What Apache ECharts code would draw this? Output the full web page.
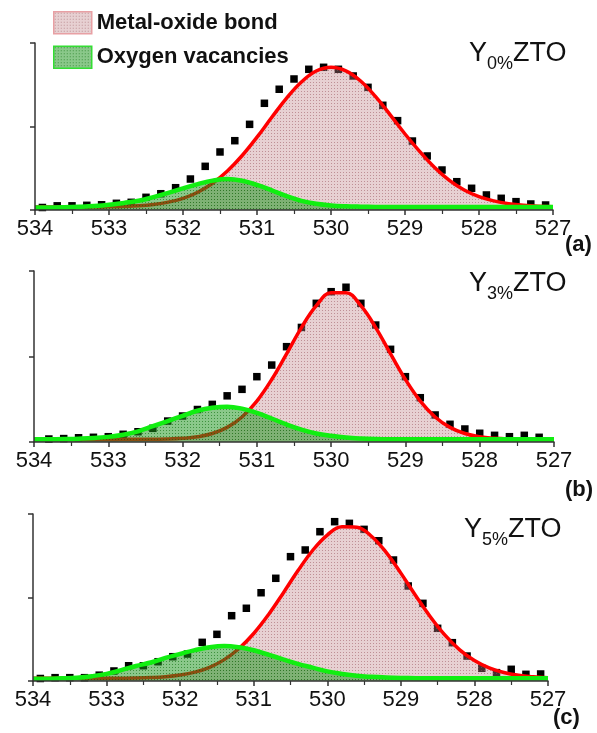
<!DOCTYPE html>
<html>
<head>
<meta charset="utf-8">
<script src="https://cdn.jsdelivr.net/npm/echarts@6/dist/echarts.min.js"></script>
<style>
  html, body { margin: 0; padding: 0; background: #fff; }
  #xps { width: 597px; height: 733px; }
</style>
</head>
<body>
<div id="xps"></div>
<script>
// binding energy grid (eV) for the fitted components
var curveX = [534.0, 533.8, 533.6, 533.4, 533.2, 533.0, 532.8, 532.6, 532.4, 532.2,
              532.0, 531.8, 531.6, 531.4, 531.2, 531.0, 530.8, 530.6, 530.4, 530.2,
              530.0, 529.8, 529.6, 529.4, 529.2, 529.0, 528.8, 528.6, 528.4, 528.2,
              528.0, 527.8, 527.6, 527.4, 527.2, 527.0];

// measured points
var pointsXOdd = [533.9, 533.7, 533.5, 533.3, 533.1, 532.9, 532.7, 532.5, 532.3, 532.1,
                  531.9, 531.7, 531.5, 531.3, 531.1, 530.9, 530.7, 530.5, 530.3, 530.1,
                  529.9, 529.7, 529.5, 529.3, 529.1, 528.9, 528.7, 528.5, 528.3, 528.1,
                  527.9, 527.7, 527.5, 527.3, 527.1];
var pointsXEven = [533.8, 533.6, 533.4, 533.2, 533.0, 532.8, 532.6, 532.4, 532.2, 532.0,
                   531.8, 531.6, 531.4, 531.2, 531.0, 530.8, 530.6, 530.4, 530.2, 530.0,
                   529.8, 529.6, 529.4, 529.2, 529.0, 528.8, 528.6, 528.4, 528.2, 528.0,
                   527.8, 527.6, 527.4, 527.2];

// Y0%ZTO
var dataA = [0.03, 0.05, 0.05, 0.056, 0.063, 0.08, 0.092, 0.152, 0.195, 0.267,
             0.371, 0.523, 0.695, 0.83, 1.026, 1.278, 1.446, 1.569, 1.685, 1.709,
             1.685, 1.605, 1.469, 1.254, 1.07, 0.826, 0.647, 0.479, 0.339, 0.26,
             0.18, 0.14, 0.1, 0.072, 0.06];
var metalA = [0.035, 0.035, 0.035, 0.035, 0.036, 0.038, 0.042, 0.05, 0.066, 0.094,
              0.14, 0.213, 0.32, 0.467, 0.653, 0.872, 1.11, 1.34, 1.533, 1.664,
              1.709, 1.666, 1.545, 1.36, 1.14, 0.91, 0.70, 0.51, 0.355, 0.24,
              0.16, 0.109, 0.076, 0.056, 0.045, 0.04];
var vacA = [0.03, 0.03, 0.032, 0.038, 0.047, 0.062, 0.085, 0.11, 0.155, 0.205,
            0.26, 0.31, 0.352, 0.371, 0.35, 0.3, 0.235, 0.165, 0.11, 0.075,
            0.055, 0.045, 0.04, 0.037, 0.035, 0.035, 0.035, 0.035, 0.035, 0.035,
            0.035, 0.035, 0.035, 0.035, 0.035, 0.035];

// Y3%ZTO
var dataB = [0.035, 0.04, 0.05, 0.055, 0.062, 0.09, 0.12, 0.16, 0.245, 0.304,
             0.38, 0.44, 0.54, 0.616, 0.764, 0.9, 1.115, 1.34, 1.622, 1.758,
             1.81, 1.622, 1.368, 1.084, 0.764, 0.518, 0.316, 0.207, 0.152, 0.102,
             0.078, 0.062, 0.078, 0.055];
var metalB = [0.03, 0.03, 0.03, 0.03, 0.03, 0.03, 0.031, 0.031, 0.033, 0.035,
              0.043, 0.061, 0.099, 0.171, 0.293, 0.479, 0.731, 1.031, 1.338, 1.594,
              1.745, 1.745, 1.594, 1.338, 1.031, 0.731, 0.479, 0.293, 0.171, 0.099,
              0.061, 0.043, 0.035, 0.033, 0.031, 0.03];
var vacB = [0.031, 0.032, 0.035, 0.039, 0.046, 0.06, 0.085, 0.125, 0.185, 0.245,
            0.305, 0.365, 0.4, 0.413, 0.39, 0.34, 0.275, 0.205, 0.145, 0.1,
            0.072, 0.052, 0.041, 0.035, 0.032, 0.031, 0.031, 0.031, 0.031, 0.031,
            0.031, 0.031, 0.031, 0.031, 0.031, 0.031];

// Y5%ZTO
var dataC = [0.03, 0.04, 0.04, 0.04, 0.07, 0.12, 0.183, 0.183, 0.231, 0.291,
             0.323, 0.463, 0.559, 0.782, 0.871, 1.057, 1.23, 1.489, 1.569, 1.788,
             1.908, 1.888, 1.816, 1.68, 1.449, 1.138, 0.93, 0.631, 0.459, 0.299,
             0.152, 0.1, 0.14, 0.08, 0.084];
var metalC = [0.032, 0.032, 0.032, 0.032, 0.032, 0.033, 0.034, 0.036, 0.041, 0.051,
              0.071, 0.106, 0.164, 0.256, 0.389, 0.569, 0.794, 1.052, 1.319, 1.563,
              1.748, 1.847, 1.842, 1.734, 1.54, 1.292, 1.025, 0.77, 0.549, 0.373,
              0.245, 0.157, 0.101, 0.068, 0.05, 0.04];
var vacC = [0.026, 0.028, 0.032, 0.04, 0.058, 0.085, 0.13, 0.18, 0.222, 0.276,
            0.324, 0.37, 0.405, 0.42, 0.404, 0.368, 0.315, 0.26, 0.205, 0.16,
            0.115, 0.085, 0.062, 0.05, 0.042, 0.037, 0.034, 0.032, 0.032, 0.032,
            0.032, 0.032, 0.032, 0.032, 0.032, 0.032];

var sampleNames = ['0%', '3%', '5%'];
var panelTags = ['(a)', '(b)', '(c)'];
var seriesNames = ['Metal-oxide bond', 'Oxygen vacancies'];

var FONT = '"Liberation Sans", Arial, sans-serif';

function pair(xs, ys) {
	var out = [];
	for (var i = 0; i < xs.length; i++) {
		out.push([xs[i], ys[i]]);
	}
	return out;
}

function make_pattern(base, dot) {
	var c = document.createElement('canvas');
	c.width = 3;
	c.height = 3;
	var ctx = c.getContext('2d');
	ctx.fillStyle = base;
	ctx.fillRect(0, 0, 3, 3);
	ctx.fillStyle = dot;
	ctx.fillRect(1, 1, 1, 1);
	return { image: c, repeat: 'repeat' };
}

var pinkFill = make_pattern('rgba(190,128,134,0.37)', 'rgba(150,80,90,0.5)');
var greenFill = make_pattern('rgba(30,150,30,0.52)', 'rgba(0,100,0,0.55)');

function cal_option() {
	var panels = [
		{ pts: pair(pointsXOdd, dataA), metal: metalA, vac: vacA, grid: { left: 35, top: 43, width: 518, height: 167 }, titleTop: 35, titleLeft: 469, tagTop: 234, tagLeft: 565 },
		{ pts: pair(pointsXEven, dataB), metal: metalB, vac: vacB, grid: { left: 34, top: 271, width: 520, height: 171 }, titleTop: 265, titleLeft: 469, tagTop: 479, tagLeft: 565 },
		{ pts: pair(pointsXOdd, dataC), metal: metalC, vac: vacC, grid: { left: 33, top: 514, width: 515, height: 167 }, titleTop: 511, titleLeft: 464, tagTop: 707, tagLeft: 553 }
	];

	var grids = [], xAxes = [], yAxes = [], series = [], titles = [];

	panels.forEach(function (p, i) {
		grids.push(p.grid);
		xAxes.push({
			type: 'value', gridIndex: i, min: 527, max: 534, interval: 1, inverse: true, z: 5,
			splitLine: { show: false },
			axisLine: { lineStyle: { color: '#333', width: 1.5 } },
			axisTick: { inside: false, length: 5, lineStyle: { color: '#333', width: 1.5 } },
			minorTick: { show: true, splitNumber: 2, length: 4, lineStyle: { color: '#333', width: 1.2 } },
			axisLabel: { fontSize: 22, fontFamily: FONT, color: '#111', margin: 8 }
		});
		yAxes.push({
			type: 'value', gridIndex: i, min: 0, max: 2, interval: 1, z: 5,
			splitLine: { show: false },
			axisLine: { show: true, lineStyle: { color: '#333', width: 1.5 } },
			axisTick: { show: true, inside: false, length: 5, lineStyle: { color: '#333', width: 1.5 } },
			axisLabel: { show: false }
		});
		series.push({
			type: 'scatter', name: 'data', xAxisIndex: i, yAxisIndex: i, z: 1,
			symbol: 'rect', symbolSize: 7.5, itemStyle: { color: '#000', opacity: 1 },
			data: p.pts
		});
		series.push({
			type: 'line', name: seriesNames[0], xAxisIndex: i, yAxisIndex: i, z: 2,
			smooth: 0.4, showSymbol: false,
			lineStyle: { color: '#ff0000', width: 3.5 },
			itemStyle: { color: '#ff0000' },
			areaStyle: { color: pinkFill, opacity: 1 },
			data: pair(curveX, p.metal)
		});
		series.push({
			type: 'line', name: seriesNames[1], xAxisIndex: i, yAxisIndex: i, z: 3,
			smooth: 0.4, showSymbol: false,
			lineStyle: { color: '#11ee11', width: 4.5 },
			itemStyle: { color: '#11ee11' },
			areaStyle: { color: greenFill, opacity: 1 },
			data: pair(curveX, p.vac)
		});
		titles.push({
			text: '{m|Y}{s|' + sampleNames[i] + '}{m|ZTO}',
			left: p.titleLeft, top: p.titleTop, padding: 0,
			textStyle: {
				fontWeight: 'normal',
				rich: {
					m: { fontSize: 27, fontWeight: 'normal', fontFamily: FONT, color: '#111', lineHeight: 38 },
					s: { fontSize: 18, fontWeight: 'normal', fontFamily: FONT, color: '#111', lineHeight: 19, verticalAlign: 'bottom' }
				}
			}
		});
		titles.push({
			text: panelTags[i], left: p.tagLeft, top: p.tagTop, padding: 0,
			textStyle: { fontSize: 22, fontWeight: 'bold', fontFamily: FONT, color: '#111' }
		});
	});

	var option = {
		animation: false,
		title: titles,
		legend: {
			orient: 'vertical', left: 53, top: 11, padding: 0,
			itemWidth: 38, itemHeight: 22, itemGap: 11,
			selectedMode: false,
			textStyle: { fontSize: 22, fontWeight: 'bold', fontFamily: FONT, color: '#111' },
			data: [
				{ name: seriesNames[0], icon: 'rect', itemStyle: { color: pinkFill, borderColor: '#e8a0a4', borderWidth: 1.5 } },
				{ name: seriesNames[1], icon: 'rect', itemStyle: { color: greenFill, borderColor: '#33dd33', borderWidth: 1.5 } }
			]
		},
		grid: grids,
		xAxis: xAxes,
		yAxis: yAxes,
		series: series
	};
	return option;
}

function draw_charts() {
	var chart = echarts.init(document.getElementById('xps'));
	chart.setOption(cal_option());
	window.onresize = function () {
		chart.resize();
	};
}

draw_charts();
</script>
</body>
</html>
